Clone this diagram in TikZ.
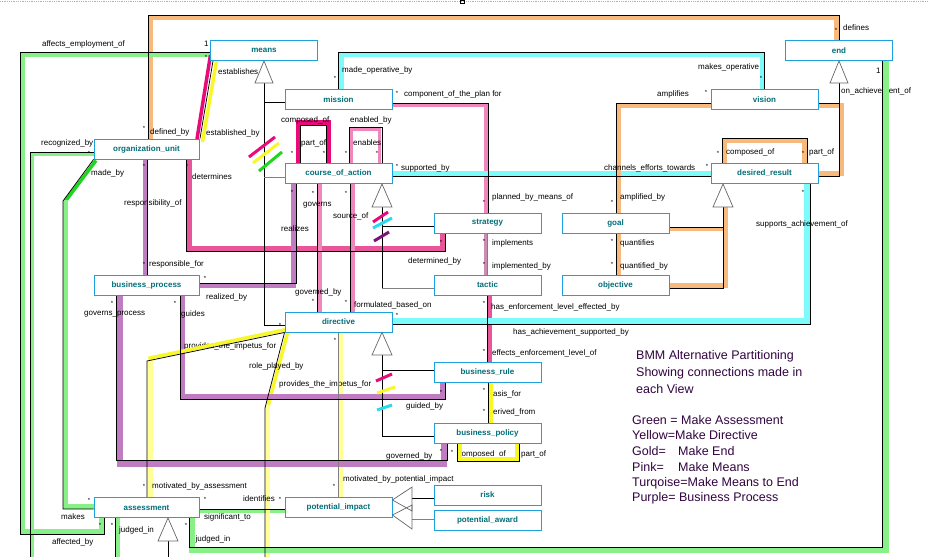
\documentclass[tikz,border=0pt]{standalone}
\usepackage{fontspec}
\setmainfont{Liberation Sans}
\pgfdeclarelayer{bg}
\pgfdeclarelayer{lab}
\pgfdeclarelayer{band}
\pgfdeclarelayer{bandtop}
\pgfdeclarelayer{wire}
\pgfsetlayers{bg,band,lab,bandtop,wire,main}
\definecolor{boxc}{RGB}{30,160,220}
\definecolor{namec}{RGB}{0,110,120}
\definecolor{gL}{RGB}{135,240,135}
\definecolor{gB}{RGB}{30,215,30}
\definecolor{orL}{RGB}{248,186,124}
\definecolor{tq}{RGB}{125,250,250}
\definecolor{tqS}{RGB}{40,220,235}
\definecolor{pkH}{RGB}{232,10,120}
\definecolor{pkL}{RGB}{240,135,188}
\definecolor{pkM}{RGB}{232,85,155}
\definecolor{pu}{RGB}{192,124,192}
\definecolor{puD}{RGB}{120,20,120}
\definecolor{yB}{RGB}{248,248,40}
\definecolor{yL}{RGB}{255,255,150}
\definecolor{mauve}{RGB}{205,140,180}
\definecolor{legc}{RGB}{50,5,65}
\tikzset{
  bx/.style={draw=boxc, line width=0.9pt, fill=white, minimum width=107pt, minimum height=20pt,
    inner sep=0pt, font=\bfseries\fontsize{8}{9}\selectfont, text=namec},
  lb/.style={anchor=west, inner sep=0pt, font=\fontsize{8}{9}\selectfont},
  st/.style={inner sep=0pt, font=\fontsize{6}{6}\selectfont},
  lg/.style={anchor=west, inner sep=0pt, text=legc, font=\fontsize{12.5}{14}\selectfont},
  wr/.style={draw=black, line width=0.75pt},
  wg/.style={draw=black!50, line width=0.75pt},
  bd/.style={line width=#1, line cap=butt, line join=miter},
  bd/.default=4.5pt,
  tr/.style={draw=black!60, fill=white, line width=0.7pt},
  sk/.style={line width=3pt}
}
\begin{document}
\begin{tikzpicture}[x=1pt,y=-1pt]
\useasboundingbox (0,0) rectangle (928,557);
\begin{pgfonlayer}{bg}
\fill[white] (0,0) rectangle (928,557);
\draw[black!30, densely dotted, line width=0.8pt] (0,1) -- (928,1);
\end{pgfonlayer}
% ---------- boxes
\node[bx] (means) at (264,50.5) {means};
\node[bx] (end) at (839,50.5) {end};
\node[bx] (mission) at (338.5,99.5) {mission};
\node[bx] (vision) at (764.5,99.5) {vision};
\node[bx, minimum width=105pt] (orgunit) at (146.5,149) {organization\_unit};
\node[bx] (coa) at (338.5,173.5) {course\_of\_action};
\node[bx] (desired) at (764.5,173.5) {desired\_result};
\node[bx] (strategy) at (487.5,223) {strategy};
\node[bx] (goal) at (615.5,223) {goal};
\node[bx] (tactic) at (487.5,285) {tactic};
\node[bx] (objective) at (615.5,285) {objective};
\node[bx, minimum width=105pt] (bproc) at (146.5,285) {business\_process};
\node[bx] (directive) at (338.5,322) {directive};
\node[bx] (brule) at (487.5,372) {business\_rule};
\node[bx] (bpolicy) at (487.5,433.5) {business\_policy};
\node[bx] (risk) at (487.5,495) {risk};
\node[bx] (paward) at (487.5,520) {potential\_award};
\node[bx] (pimpact) at (338.5,507.5) {potential\_impact};
\node[bx, minimum width=105pt] (assess) at (146.5,507.5) {assessment};
\draw[line width=0.6pt] (460,0.5) rectangle (464,3.5);
% ---------- labels
\begin{pgfonlayer}{lab}
\foreach \x/\y/\t [count=\i] in {
843/28/defines, 42/44/affects\_employment\_of, 218/72/establishes,
342/70/made\_operative\_by, 698/67/makes\_operative, 841/91/on\_achievement\_of,
404/94/component\_of\_the\_plan for, 657/94/amplifies, 281/120/composed\_of,
350/120/enabled\_by, 301/143/part\_of, 353/143/enables, 150/132/defined\_by,
206/133/established\_by, 41/143/recognized\_by, 726/152/composed\_of,
809/152/part\_of, 401/168/supported\_by, 604/168/channels\_efforts\_towards,
91/173/made\_by, 192/177/determines, 492/197/planned\_by\_means\_of,
620/197/amplified\_by, 124/203/responsibility\_of, 303/205/governs,
333/216/source\_of, 756/224/supports\_achievement\_of, 281/229/realizes,
492/243/implements, 620/243/quantifies, 408/261/determined\_by,
149/264/responsible\_for, 492/266/implemented\_by, 620/266/quantified\_by,
295/292/governed\_by, 206/297/realized\_by, 354/305/formulated\_based\_on,
491/307/has\_enforcement\_level\_effected\_by, 84/314/governs\_process,
181/314/guides, 513/332/has\_achievement\_supported\_by,
184/346/provides\_the\_impetus\_for, 492/353/effects\_enforcement\_level\_of,
249/366/role\_played\_by, 279/384/provides\_the\_impetus\_for,
488.5/394/basis\_for, 406/406/guided\_by, 488.5/412/derived\_from,
386/456/governed\_by, 457.5/454/composed\_of, 521/454/part\_of,
343/479/motivated\_by\_potential\_impact, 152/486/motivated\_by\_assessment,
243/499/identifies, 61/517/makes, 204/517/significant\_to,
119/530/judged\_in, 195.5/539/judged\_in, 52/542/affected\_by, 204/44/1, 876/71/1}
  \node[lb] (lab\i) at (\x,\y) {\t};
\foreach \x/\y [count=\i] in {
836/30, 206/57, 335/78, 761/78, 397/93, 706/92, 144/128, 292/153, 324/153,
346/153, 377/153, 718/153, 803/153, 89/153, 397/166, 707/166, 187/166, 144/166,
313/193, 292/192, 346/193, 803/192, 484/202, 612/202, 484/241, 612/241, 441/242,
144/264, 484/264, 612/264, 205/278, 313/301, 346/302, 112/303, 175/303, 484/303,
397/315, 280/325, 335/340, 484/351, 484/390, 441/392, 484/411, 516/449, 441/451,
452/452, 334/486, 144/486, 89/500, 205/499, 280/499, 112/525, 100/525, 186/525}
  \node[st] (star\i) at (\x,\y) {*};
\node[lg] (g1) at (636,356) {BMM Alternative Partitioning};
\node[lg] (g2) at (636,373) {Showing connections made in};
\node[lg] (g3) at (636,389) {each View};
\node[lg] (g4) at (632,420) {Green = Make Assessment};
\node[lg] (g5) at (632,435) {Yellow=Make Directive};
\node[lg] (g6) at (632,451) {\makebox[46pt][l]{Gold=}Make End};
\node[lg] (g7) at (632,467) {\makebox[46pt][l]{Pink=}Make Means};
\node[lg] (g8) at (632,483) {Turqoise=Make Means to End};
\node[lg] (g9) at (632,498) {Purple= Business Process};
\end{pgfonlayer}
% ---------- coloured bands
\begin{pgfonlayer}{band}
\draw[bd, orL] (150.5,0 |- orgunit.north) -- (150.5,17.5) -- (836.5,17.5) -- (836.5,0 |- end.north);
\draw[bd, gL] (means.west |- 0,54.5) -- (22.5,54.5) -- (22.5,531.5) -- (101.5,531.5) -- (101.5,0 |- assess.south);
\draw[bd=3.5pt, gL] (orgunit.west |- 0,154) -- (32.5,154) -- (32.5,557);
\draw[bd=3.5pt, gB] (96,160.5) -- (65.5,201);
\draw[bd, gL] (65.5,200) -- (65.5,506.5) -- (assess.west |- 0,506.5);
\draw[bd=5pt, tq] (341,0 |- mission.north) -- (341,54.5) -- (762,54.5) -- (762,0 |- vision.north);
\draw[bd=4pt, pkL] (mission.east |- 0,105) -- (486,105) -- (486,0 |- strategy.north);
\draw[bd=5pt, pkH] (298,0 |- coa.north) -- (298,122.5) -- (328,122.5) -- (328,0 |- coa.north);
\draw[bd=3.5pt, pkL] (351.5,0 |- coa.north) -- (351.5,129.5) -- (379.5,129.5) -- (379.5,0 |- coa.north);
\draw[bd, tq] (coa.east |- 0,173.5) -- (desired.west |- 0,173.5);
\draw[bd=3.5pt, pkH] (197,139) -- (210.5,55);
\draw[bd=3.5pt, yB] (202.5,142) -- (216.5,61);
\draw[bd=5pt, pkM] (189,0 |- orgunit.south) -- (189,248.5) -- (442.5,248.5) -- (442.5,0 |- strategy.south);
\draw[bd=4pt, pu] (145,0 |- orgunit.south) -- (145,0 |- bproc.north);
\draw[bd=5pt, pu] (bproc.east |- 0,285.5) -- (293.5,285.5) -- (293.5,0 |- coa.south);
\draw[bd=4pt, pkL] (319.5,0 |- coa.south) -- (319.5,0 |- directive.north);
\draw[bd=4pt, pkL] (352.5,0 |- coa.south) -- (352.5,0 |- directive.north);
\draw[bd=3.5pt, mauve] (485.5,0 |- strategy.south) -- (485.5,0 |- tactic.north);
\draw[bd=4pt, pkM] (490,0 |- tactic.south) -- (490,0 |- brule.north);
\draw[bd=6pt, tq] (directive.east |- 0,320.5) -- (806.5,320.5) -- (806.5,0 |- desired.south);
\draw[bd, orL] (vision.west |- 0,105.5) -- (618.5,105.5) -- (618.5,0 |- goal.north);
\draw[bd=4pt, orL] (618.5,0 |- goal.south) -- (618.5,0 |- objective.north);
\draw[bd, orL] (725.5,207) -- (725.5,285.5) -- (objective.east |- 0,285.5);
\draw[bd=3pt, orL] (goal.east |- 0,229) -- (723,229);
\draw[bd, orL] (724.5,0 |- desired.north) -- (724.5,140.5) -- (804.5,140.5) -- (804.5,0 |- desired.north);
\draw[bd, orL] (vision.east |- 0,105.5) -- (841.5,105.5) -- (841.5,173.5) -- (desired.east |- 0,173.5);
\draw[bd=4pt, gL] (117.5,0 |- assess.south) -- (117.5,557);
\draw[bd=3.5pt, gL] (assess.east |- 0,511) -- (pimpact.west |- 0,511);
\draw[bd=4.5pt, yL] (150.5,358) -- (150.5,0 |- assess.north);
\draw[bd=3.5pt, yB] (287.5,333) -- (267.8,407);
\draw[bd=4pt, yL] (267.5,405) -- (267.5,557);
\draw[bd=4.5pt, yL] (341,0 |- directive.south) -- (341,0 |- pimpact.north);
\draw[bd=5pt, pu] (182.5,0 |- bproc.south) -- (182.5,396.5) -- (442.5,396.5) -- (442.5,0 |- brule.south);
\draw[bd=6pt, pu] (120,0 |- bproc.south) -- (120,463.5) -- (444,463.5) -- (444,0 |- bpolicy.south);
\end{pgfonlayer}
\begin{pgfonlayer}{bandtop}
\draw[bd=5.5pt, gL] (886,0 |- end.south) -- (886,550) -- (192,550) -- (192,0 |- assess.south);
\draw[bd=3.5pt, yB] (285,329.8) -- (148.5,358.3);
\draw[bd=4pt, yB] (459.5,0 |- bpolicy.south) -- (459.5,458.5) -- (516.5,458.5) -- (516.5,0 |- bpolicy.south);
\draw[bd=4.5pt, yB] (491,0 |- brule.south) -- (491,0 |- bpolicy.north);
\end{pgfonlayer}
% ---------- association lines
\begin{pgfonlayer}{wire}
\draw[wr] (148,0 |- orgunit.north) -- (148,15) -- (839,15) -- (end.north);
\draw[wr] (means.west |- 0,52) -- (20,52) -- (20,534) -- (104,534) -- (104,0 |- assess.south);
\draw[wr] (orgunit.west |- 0,152) -- (30.5,152) -- (30.5,557);
\draw[wr] (orgunit.south west) -- (63,201) -- (63,509) -- (assess.west |- 0,509);
\draw[wr] (264,83) -- (264,325) -- (directive.west |- 0,325);
\draw[wr] (264,102) -- (mission.west |- 0,102);
\draw[wg] (264,177) -- (coa.west |- 0,177);
\draw[wr] (mission.north) -- (338.5,52) -- (764.5,52) -- (vision.north);
\draw[wr] (mission.east |- 0,103) -- (488,103) -- (488,0 |- strategy.north);
\draw[wr] (300,0 |- coa.north) -- (300,125) -- (326,125) -- (326,0 |- coa.north);
\draw[wr] (349,0 |- coa.north) -- (349,127) -- (382,127) -- (382,0 |- coa.north);
\draw[wr] (coa.east |- 0,176) -- (desired.west |- 0,176);
\draw[wr] (382,207) -- (382,288);
\draw[wr] (382,226) -- (strategy.west |- 0,226);
\draw[wg] (382,288) -- (tactic.west |- 0,288);
\draw[wr] (200,0 |- orgunit.north) -- (213,0 |- means.south);
\draw[wr] (186,0 |- orgunit.south) -- (186,251) -- (445,251) -- (445,0 |- strategy.south);
\draw[wr] (147,0 |- orgunit.south) -- (147,0 |- bproc.north);
\draw[wr] (bproc.east |- 0,283) -- (296,283) -- (296,0 |- coa.south);
\draw[wr] (317,0 |- coa.south) -- (317,0 |- directive.north);
\draw[wr] (350,0 |- coa.south) -- (350,0 |- directive.north);
\draw[wg] (strategy.south) -- (tactic.north);
\draw[wr] (tactic.south) -- (brule.north);
\draw[wr] (directive.east |- 0,324) -- (810,324) -- (810,0 |- desired.south);
\draw[wr] (vision.west |- 0,103) -- (616,103) -- (616,0 |- goal.north);
\draw[wr] (616,0 |- goal.south) -- (616,0 |- objective.north);
\draw[wr] (723,207) -- (723,288) -- (objective.east |- 0,288);
\draw[wr] (723,227) -- (goal.east |- 0,227);
\draw[wr] (722,0 |- desired.north) -- (722,138) -- (807,138) -- (807,0 |- desired.north);
\draw[wr] (839,83) -- (839,176) -- (desired.east |- 0,176);
\draw[wr] (839,103) -- (vision.east |- 0,103);
\draw[wr] (882.5,0 |- end.south) -- (882.5,547) -- (189.5,547) -- (189.5,0 |- assess.south);
\draw[wr] (115,0 |- assess.south) -- (115,557);
\draw[wr] (assess.east |- 0,509) -- (pimpact.west |- 0,509);
\draw[wr] (168,541) -- (168,557);
\draw[wr] (directive.south west) -- (147,361) -- (147,0 |- assess.north);
\draw[wr] (directive.south west) -- (265,408) -- (265,557);
\draw[wg] (directive.south) -- (pimpact.north);
\draw[wr] (180,0 |- bproc.south) -- (180,399) -- (445,399) -- (445,0 |- brule.south);
\draw[wr] (116,0 |- bproc.south) -- (116,460.5) -- (447,460.5) -- (447,0 |- bpolicy.south);
\draw[wr] (457,0 |- bpolicy.south) -- (457,461) -- (519,461) -- (519,0 |- bpolicy.south);
\draw[wr] (488,0 |- brule.south) -- (488,0 |- bpolicy.north);
\draw[wr] (382,355) -- (382,436) -- (bpolicy.west |- 0,436);
\draw[wr] (382,370) -- (brule.west |- 0,370);
\draw[wr] (412,498) -- (risk.west |- 0,498);
\draw[wg] (412,519) -- (paward.west |- 0,519);
\end{pgfonlayer}
% ---------- generalisation triangles
\draw[tr] (means.south) -- (255,83) -- (273,83) -- cycle;
\draw[tr] (end.south) -- (830,83) -- (848,83) -- cycle;
\draw[tr] (382,0 |- coa.south) -- (372,207) -- (392,207) -- cycle;
\draw[tr] (723,0 |- desired.south) -- (713,207) -- (733,207) -- cycle;
\draw[tr] (382,0 |- directive.south) -- (372,355) -- (392,355) -- cycle;
\draw[tr] (168,0 |- assess.south) -- (158,541) -- (178,541) -- cycle;
\draw[tr, fill=none] (pimpact.east |- 0,500) -- (412,487) -- (412,511) -- cycle;
\draw[tr, fill=none] (pimpact.east |- 0,515) -- (412,505) -- (412,529) -- cycle;
% ---------- view marks
\draw[sk, pkH] (249,157) -- (275,137);
\draw[sk, yB] (253,163) -- (279,143);
\draw[sk, gB] (259,171) -- (282,152);
\draw[sk, pkH] (373,222) -- (388,212);
\draw[sk, tqS] (373,228) -- (392,218);
\draw[sk, puD] (374,241) -- (389,232);
\draw[sk, pkH] (376,381) -- (392,374);
\draw[sk, yB] (377,393) -- (395,387);
\draw[sk, tqS] (377,410) -- (392,405);
\end{tikzpicture}
\end{document}
